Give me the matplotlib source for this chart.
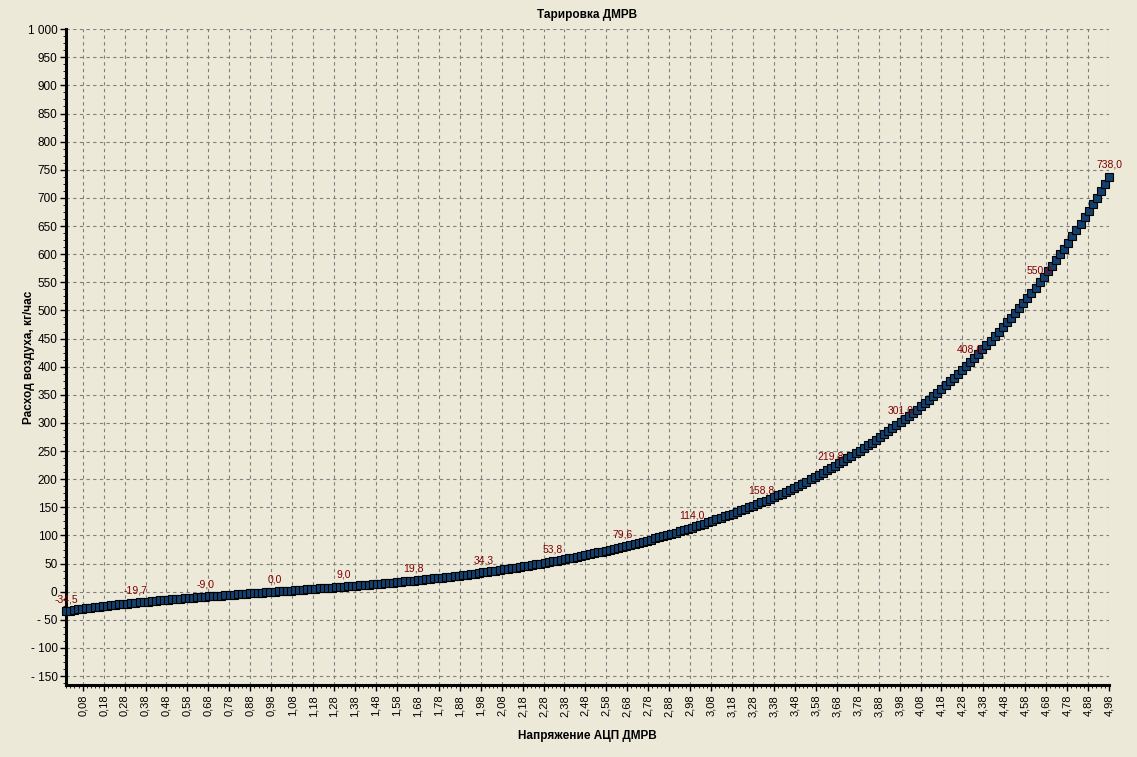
#!/usr/bin/env python3

import numpy as np
import matplotlib
matplotlib.use('Agg')
import matplotlib.pyplot as plt
from matplotlib.ticker import FixedLocator, MultipleLocator, FuncFormatter

# ADC codes 0..255 over 5 V reference
adc_code = np.arange(256)
voltage = adc_code * 5.0 / 256

# air flow, kg/h for each ADC code
flow = [
	-34.5, -33.5, -32.5, -31.5, -30.5, -29.6, -28.7, -27.8, -26.9, -26.0, -25.1, -24.3, -23.5, -22.7, -21.9, -21.2, -20.4,
	-19.7, -19.0, -18.3, -17.6, -17.0, -16.3, -15.6, -15.0, -14.3, -13.7, -13.1, -12.5, -11.9, -11.3, -10.7, -10.1, -9.5,
	-9.0, -8.5, -7.9, -7.4, -6.8, -6.3, -5.7, -5.2, -4.7, -4.1, -3.6, -3.1, -2.6, -2.0, -1.5, -1.0, -0.5,
	0.0, 0.5, 1.0, 1.5, 2.1, 2.6, 3.1, 3.6, 4.2, 4.7, 5.2, 5.7, 6.3, 6.8, 7.4, 7.9, 8.5,
	9.0, 9.6, 10.1, 10.7, 11.3, 11.9, 12.5, 13.1, 13.7, 14.4, 15.0, 15.7, 16.3, 17.0, 17.7, 18.4, 19.1,
	19.8, 20.5, 21.3, 22.0, 22.8, 23.6, 24.4, 25.2, 26.0, 26.9, 27.8, 28.7, 29.6, 30.5, 31.4, 32.3, 33.3,
	34.3, 35.3, 36.3, 37.4, 38.4, 39.5, 40.6, 41.7, 42.8, 44.0, 45.1, 46.3, 47.5, 48.7, 50.0, 51.2, 52.5,
	53.8, 55.1, 56.5, 57.8, 59.2, 60.6, 62.1, 63.6, 65.1, 66.6, 68.1, 69.7, 71.3, 72.9, 74.5, 76.2, 77.9,
	79.6, 81.4, 83.1, 85.0, 86.8, 88.7, 90.6, 92.6, 94.6, 96.6, 98.6, 100.7, 102.9, 105.0, 107.2, 109.4, 111.7,
	114.0, 116.3, 118.7, 121.1, 123.5, 126.0, 128.6, 131.1, 133.7, 136.3, 139.0, 141.7, 144.5, 147.3, 150.1, 153.0, 155.9,
	158.8, 161.8, 164.9, 168.0, 171.2, 174.5, 177.9, 181.3, 184.9, 188.4, 192.1, 195.8, 199.7, 203.5, 207.5, 211.5, 215.6,
	219.8, 224.0, 228.3, 232.6, 237.0, 241.5, 246.1, 250.7, 255.4, 260.2, 265.0, 270.0, 275.0, 280.0, 285.2, 290.4, 295.6,
	301.0, 306.5, 312.0, 317.7, 323.5, 329.4, 335.4, 341.5, 347.7, 354.0, 360.4, 367.0, 373.7, 380.4, 387.3, 394.3, 401.4,
	408.6, 415.9, 423.3, 430.9, 438.6, 446.4, 454.3, 462.4, 470.6, 478.9, 487.3, 495.9, 504.6, 513.4, 522.4, 531.5, 540.7,
	550.0, 559.5, 569.2, 579.1, 589.2, 599.5, 609.9, 620.6, 631.5, 642.5, 653.8, 665.2, 676.9, 688.7, 700.7, 713.0, 725.4,
	738.0,
]

# every 17th point carries a value mark
label_idx = list(range(0, 256, 17))
x_ticks = [round(0.08 + 0.1 * k, 2) for k in range(50)]

BG = '#ECE9D8'
FONT = ['Liberation Sans', 'DejaVu Sans']

plt.rcParams['font.family'] = FONT
plt.rcParams['font.size'] = 8

fig = plt.figure(figsize=(11.37, 7.57), dpi=100, facecolor=BG)
ax = fig.add_axes([0.058, 0.095, 0.9175, 0.8665], facecolor=BG)

ax.plot(voltage, flow, ls='none', marker='s', markersize=5.2,
        markerfacecolor='#12406F', markeredgecolor='#000000',
        markeredgewidth=0.8, clip_on=False, zorder=3)

for i in label_idx:
	ax.annotate(('%.1f' % flow[i]).replace('.', ','), (voltage[i], flow[i]),
	            xytext=(0, 5), textcoords='offset points', ha='center', va='bottom',
	            color='#800000', fontsize=7.5, zorder=4)

ax.set_xlim(voltage[0], voltage[-1])
ax.set_ylim(-166, 1000)

ax.xaxis.set_major_locator(FixedLocator(x_ticks))
ax.xaxis.set_major_formatter(FuncFormatter(lambda v, p: ('%.2f' % v).replace('.', ',')))
ax.xaxis.set_minor_locator(MultipleLocator(0.02))
ax.yaxis.set_major_locator(MultipleLocator(50))
ax.yaxis.set_minor_locator(MultipleLocator(12.5))

def yfmt(v, p):
	s = '{:,.0f}'.format(abs(v)).replace(',', ' ')
	return ('- ' + s) if v < 0 else s
ax.yaxis.set_major_formatter(FuncFormatter(yfmt))

ax.tick_params(axis='x', which='major', rotation=90, length=4, width=1, labelsize=8, pad=3)
ax.tick_params(axis='y', which='major', length=4, width=1, labelsize=8.5, pad=2)
ax.tick_params(which='minor', length=2, width=0.6)

ax.grid(True, which='major', color='#7F7F7F', linestyle=(0, (3, 3)), linewidth=0.8)
ax.set_axisbelow(True)

for side in ('top', 'right'):
	ax.spines[side].set_visible(False)
for side in ('left', 'bottom'):
	ax.spines[side].set_linewidth(2.2)
	ax.spines[side].set_color('black')

ax.set_title('Тарировка ДМРВ', fontsize=8.5, fontweight='bold', pad=8)
ax.set_xlabel('Напряжение АЦП ДМРВ', fontsize=8.5, fontweight='bold', labelpad=10)
ax.set_ylabel('Расход воздуха, кг/час', fontsize=8.5, fontweight='bold')
ax.yaxis.set_label_coords(-0.030, 0.5)

fig.savefig('out.png', dpi=100, facecolor=BG)
